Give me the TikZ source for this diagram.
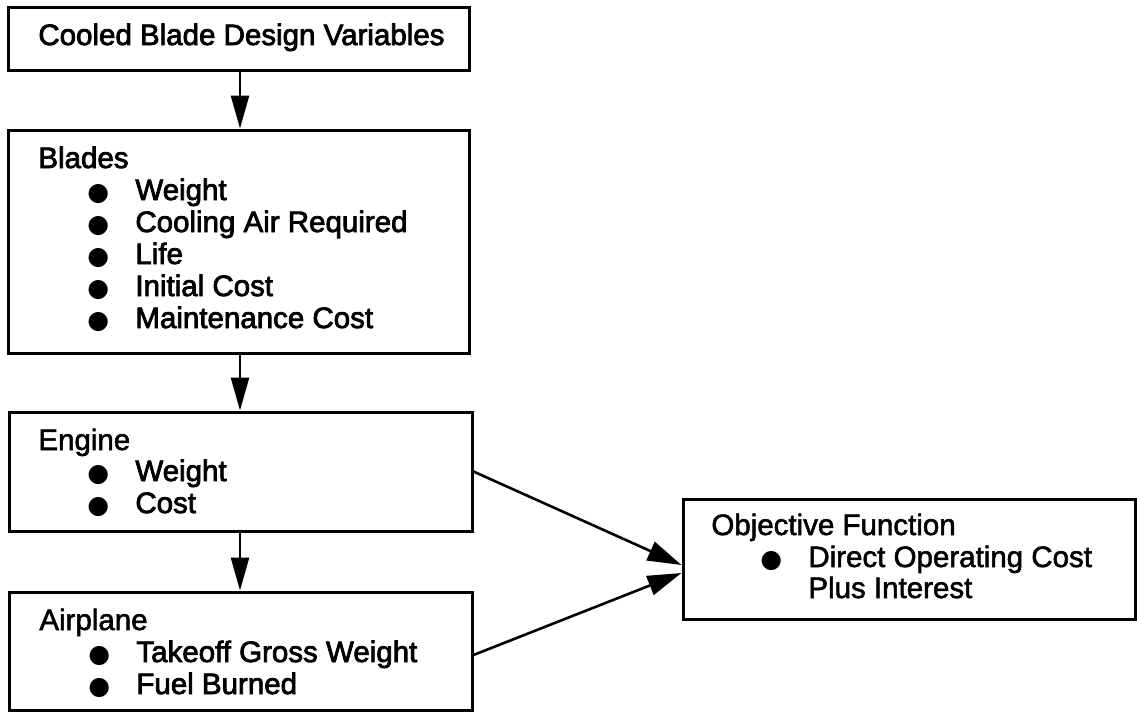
\documentclass[tikz,border=0pt]{standalone}
\usepackage{fontspec}
\setmainfont{Liberation Sans}
\newfontfamily\heavy{Liberation Sans}[FakeBold=2.6]
\newfontfamily\medium{Liberation Sans}[FakeBold=1.8]
\newfontfamily\dejavu{DejaVu Sans}
\usetikzlibrary{arrows.meta,calc}
\newcommand{\bul}{{\dejavu\fontsize{12.5}{16}\selectfont ●}}
\newcommand{\itm}[1]{\hspace*{24.5pt}\makebox[24pt][l]{\bul}#1}
\begin{document}
\begin{tikzpicture}[x=0.5pt,y=-0.5pt,
  box/.style={draw, line width=1.5pt, inner sep=0pt, rectangle},
  txt/.style={anchor=base west, inner sep=0pt, font=\heavy\fontsize{14.75}{16}\selectfont},
  txtb/.style={anchor=base west, inner sep=0pt, font=\medium\fontsize{14.75}{16}\selectfont},
  arr/.style={draw, line width=1.3pt, -{Triangle[length=16.5pt,width=9pt]}},
  sarr/.style={draw, line width=1.3pt, -{Triangle[length=17pt,width=10pt]}}]
\useasboundingbox (0,0) rectangle (1137,713);
% boxes
\node[box, minimum width=230.5pt, minimum height=31.5pt] (b1) at (238.5,38.5) {};
\node[box, minimum width=230.5pt, minimum height=111.5pt] (b2) at (238.5,241.5) {};
\node[box, minimum width=231.5pt, minimum height=59.5pt] (b3) at (240.5,471.5) {};
\node[box, minimum width=231.5pt, minimum height=59pt] (b4) at (240.5,651) {};
\node[box, minimum width=226pt, minimum height=60pt] (b5) at (909,559) {};
% texts
\node[txt] (t1) at (38,45) {Cooled Blade Design Variables};
\node[txt] (t2) at (38,168) {Blades};
\node[txt] (t2a) at (38,200) {\itm{Weight}};
\node[txt] (t2b) at (38,232) {\itm{Cooling Air Required}};
\node[txt] (t2c) at (38,264) {\itm{Life}};
\node[txt] (t2d) at (38,296) {\itm{Initial Cost}};
\node[txt] (t2e) at (38,328) {\itm{Maintenance Cost}};
\node[txtb] (t3) at (38,450) {Engine};
\node[txt] (t3a) at (38,481) {\itm{Weight}};
\node[txt] (t3b) at (38,513) {\itm{Cost}};
\node[txtb] (t4) at (39,630) {Airplane};
\node[txt] (t4a) at (39,662) {\itm{Takeoff Gross Weight}};
\node[txt] (t4b) at (39,694) {\itm{Fuel Burned}};
\node[txtb] (t5) at (711,535) {Objective Function};
\node[txtb] (t5a) at (711,567) {\itm{Direct Operating Cost}};
\node[txtb] (t5b) at (808,598) {Plus Interest};
% connectors
\coordinate (ax) at (240,0);
\draw[arr] (b1.south -| ax) -- (b2.north -| ax);
\draw[arr] (b2.south -| ax) -- (b3.north -| ax);
\draw[arr] (b3.south -| ax) -- (b4.north -| ax);
\draw[sarr] (b3.east) -- ([yshift=-3pt]b5.west);
\draw[sarr] ([yshift=-2pt]b4.east) -- ([yshift=-7pt]b5.west);
\end{tikzpicture}
\end{document}
